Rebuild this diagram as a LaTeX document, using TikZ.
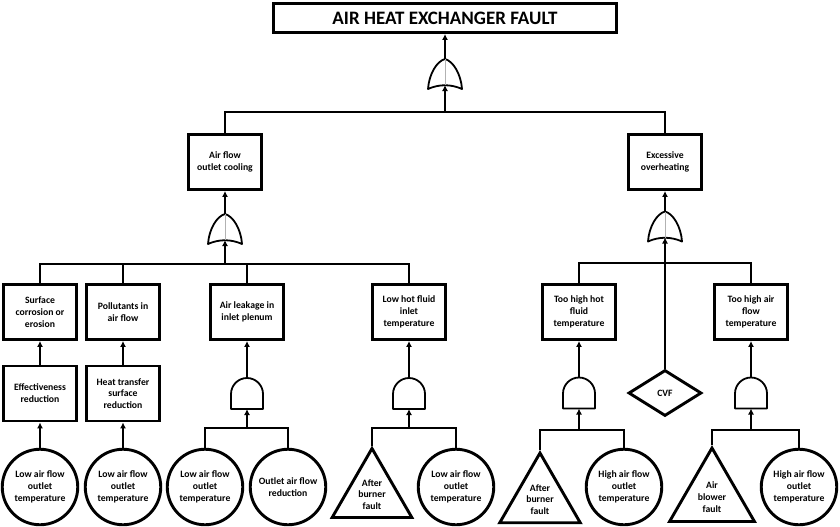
\documentclass[tikz,border=0pt]{standalone}
\usepackage{fontspec}
\setmainfont{Carlito}
\usetikzlibrary{arrows.meta,shapes.geometric}

\tikzset{
  txt/.style={align=center,font=\bfseries\fontsize{9.7}{11.8}\selectfont},
  event/.style={txt,draw,line width=2.9pt,minimum width=73pt,minimum height=55pt,inner sep=1pt},
  basic/.style={txt,draw,circle,line width=2.9pt,minimum size=75.5pt,inner sep=0pt},
  undev/.style={txt,draw,regular polygon,regular polygon sides=3,line width=2.9pt,inner sep=0pt},
  cond/.style={txt,draw,diamond,line width=2.9pt,minimum width=73pt,minimum height=46pt,inner sep=0pt},
  link/.style={line width=2.5pt},
  gateline/.style={line width=1.8pt,line join=round},
  orgate/.pic={
    \draw[gateline,fill=white] (-17,15) .. controls (-16,0) and (-8,-13) .. (0,-15)
      .. controls (8,-13) and (16,0) .. (17,15)
      .. controls (6,10) and (-6,10) .. (-17,15) -- cycle;
    \draw[gray!60,line width=0.6pt] (0,-15) -- (0,11);
    \coordinate (-in) at (0,11);
    \coordinate (-out) at (0,-15);
  },
  andgate/.pic={
    \draw[gateline,fill=white] (-16,15.5) -- (-16,0.5) .. controls (-16,-8.3) and (-8.8,-15.5) .. (0,-15.5)
      .. controls (8.8,-15.5) and (16,-8.3) .. (16,0.5) -- (16,15.5) -- cycle;
    \coordinate (-in) at (0,15.5);
    \coordinate (-out) at (0,-15.5);
  },
}

\begin{document}
\begin{tikzpicture}[x=1pt,y=-1pt,>={Latex[length=6pt,width=6pt]}]
  \useasboundingbox (0,0) rectangle (840,527);
%%
  % Node: top event
  \node[draw,line width=2.9pt,minimum width=343pt,minimum height=29pt,inner sep=0pt,
        font=\bfseries\fontsize{19}{22}\selectfont] (top) at (445,18) {AIR HEAT EXCHANGER FAULT};
  % Node: second level
  \node[event] (aoc) at (225,162) {Air flow\\outlet cooling};
  \node[event] (exc) at (665,162) {Excessive\\overheating};
  % Node: third level
  \node[event] (surf) at (40,312) {Surface\\corrosion or\\erosion};
  \node[event] (poll) at (123,312) {Pollutants in\\air flow};
  \node[event] (leak) at (247,312) {Air leakage in\\inlet plenum};
  \node[event] (lowhot) at (409,312) {Low hot fluid\\inlet\\temperature};
  \node[event] (thh) at (579,312) {Too high hot\\fluid\\temperature};
  \node[event] (tha) at (751,312) {Too high air\\flow\\temperature};
  \node[event] (eff) at (40,393.5) {Effectiveness\\reduction};
  \node[event] (heat) at (123,393.5) {Heat transfer\\surface\\reduction};
  \node[cond] (cvf) at (665,393) {CVF};
  % Node: basic events
  \node[basic] (c1) at (40,487) {Low air flow\\outlet\\temperature};
  \node[basic] (c2) at (123,487) {Low air flow\\outlet\\temperature};
  \node[basic] (c3) at (205,487) {Low air flow\\outlet\\temperature};
  \node[basic] (c4) at (288,487) {Outlet air flow\\reduction};
  \node[basic] (c5) at (456,487) {Low air flow\\outlet\\temperature};
  \node[basic] (c6) at (624,487) {High air flow\\outlet\\temperature};
  \node[basic] (c7) at (799,487) {High air flow\\outlet\\temperature};
  \node[undev,minimum size=92pt] (tri1) at (372,494.5) {After\\burner\\fault};
  \node[undev,minimum size=93pt] (tri2) at (540,499.5) {After\\burner\\fault};
  \node[undev,minimum size=98pt] (tri3) at (712,497) {Air\\blower\\fault};
  % Gates
  \pic (g0) at (445,74) {orgate};
  \pic (g1) at (225,229) {orgate};
  \pic (g2) at (665,226.5) {orgate};
  \pic (g3) at (247,393.5) {andgate};
  \pic (g4) at (409,393.5) {andgate};
  \pic (g5) at (579,393) {andgate};
  \pic (g6) at (751,393) {andgate};
  \coordinate (bus0) at (445,112);
  \coordinate (bus1) at (225,264);
  \coordinate (bus2) at (665,263);
  \coordinate (bus3) at (247,428);
  \coordinate (bus4) at (409,428);
  \coordinate (bus5) at (579,430);
  \coordinate (bus6) at (751,430);
  % Edge: g0 -> top
  \draw[link] (aoc.north) |- (bus0) -| (exc.north);
  \draw[link,->] (bus0) -- (g0-in);
  \draw[link,->] (g0-out) -- (top.south);
  % Edge: g1 -> aoc
  \draw[link] (surf.north) |- (bus1) -| (lowhot.north);
  \draw[link] (poll.north) |- (bus1);
  \draw[link] (leak.north) |- (bus1);
  \draw[link,->] (bus1) -- (g1-in);
  \draw[link,->] (g1-out) -- (aoc.south);
  % Edge: g2 -> exc
  \draw[link] (thh.north) |- (bus2) -| (tha.north);
  \draw[link,->] (cvf.north) -- (g2-in);
  \draw[link,->] (g2-out) -- (exc.south);
  % Edge: chains on the left
  \draw[link,->] (eff.north) -- (surf.south);
  \draw[link,->] (c1.north) -- (eff.south);
  \draw[link,->] (heat.north) -- (poll.south);
  \draw[link,->] (c2.north) -- (heat.south);
  % Edge: g3 -> leak
  \draw[link] (c3.north) |- (bus3) -| (c4.north);
  \draw[link,->] (bus3) -- (g3-in);
  \draw[link,->] (g3-out) -- (leak.south);
  % Edge: g4 -> lowhot
  \draw[link] (tri1.corner 1) |- (bus4) -| (c5.north);
  \draw[link,->] (bus4) -- (g4-in);
  \draw[link,->] (g4-out) -- (lowhot.south);
  % Edge: g5 -> thh
  \draw[link] (tri2.corner 1) |- (bus5) -| (c6.north);
  \draw[link,->] (bus5) -- (g5-in);
  \draw[link,->] (g5-out) -- (thh.south);
  % Edge: g6 -> tha
  \draw[link] (tri3.corner 1) |- (bus6) -| (c7.north);
  \draw[link,->] (bus6) -- (g6-in);
  \draw[link,->] (g6-out) -- (tha.south);
%
\end{tikzpicture}
\end{document}
